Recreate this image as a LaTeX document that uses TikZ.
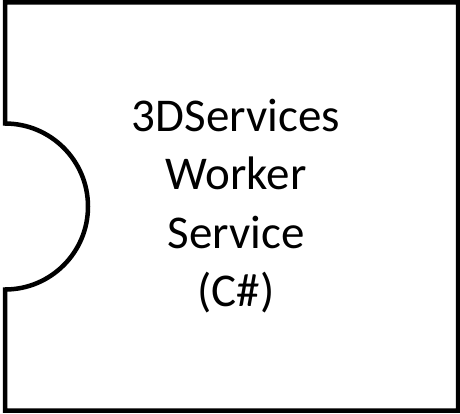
\documentclass[tikz,border=0pt]{standalone}
\usepackage{fontspec}
\setmainfont{Carlito}
\begin{document}
\begin{tikzpicture}[x=1bp,y=1bp,
  outline/.style={draw=black,line width=4.5bp,line join=miter},
  label/.style={align=center,font=\fontsize{47bp}{58.3bp}\selectfont,inner sep=0pt}]
\useasboundingbox (0,0) rectangle (460,413);
% frame with a half-round socket cut into the left side
\draw[outline] (5,410.5) -- (458,410.5) -- (458,2.5) -- (5,2.5) -- (5,123.5)
  arc[start angle=-90,end angle=90,radius=83] -- cycle;
\node[label] (title) at (236,207) {3DServices\\Worker\\Service\\(C\#)};
\end{tikzpicture}
\end{document}
